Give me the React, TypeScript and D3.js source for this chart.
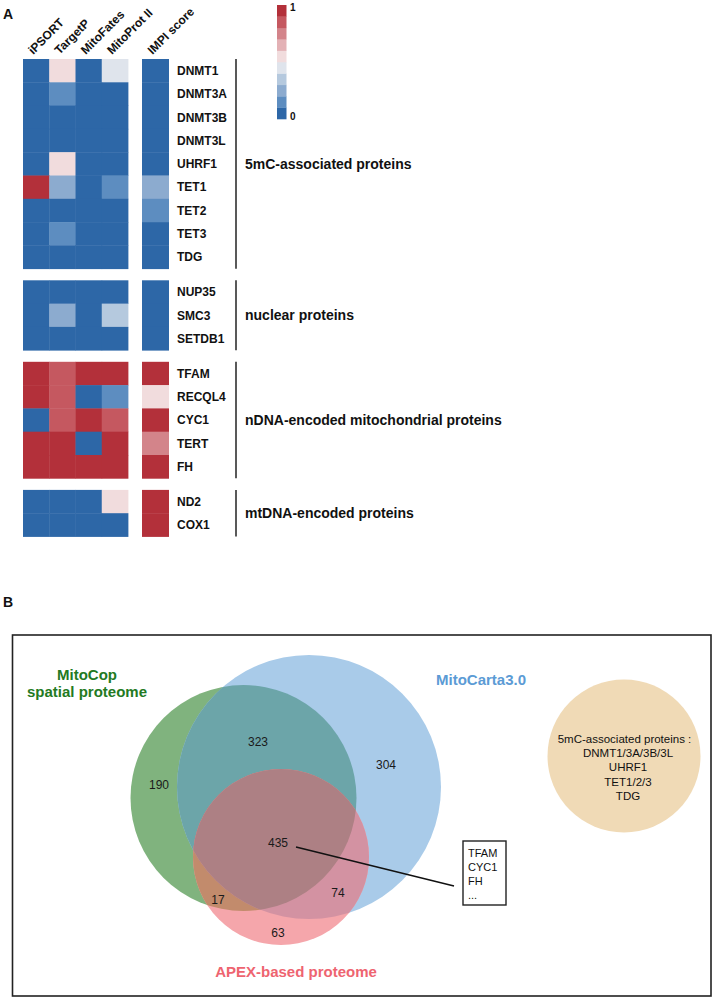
import React from 'react';
import * as d3 from 'd3';

// ---- Panel A data ----
const methods = ['iPSORT', 'TargetP', 'MitoFates', 'MitoProt II'];
const impiLabel = 'IMPI score';
const groupNames = [
  '5mC-associated proteins',
  'nuclear proteins',
  'nDNA-encoded mitochondrial proteins',
  'mtDNA-encoded proteins',
];
const proteins = [
  'DNMT1', 'DNMT3A', 'DNMT3B', 'DNMT3L', 'UHRF1', 'TET1', 'TET2', 'TET3', 'TDG',
  'NUP35', 'SMC3', 'SETDB1',
  'TFAM', 'RECQL4', 'CYC1', 'TERT', 'FH',
  'ND2', 'COX1',
];
const proteinGroup = [0, 0, 0, 0, 0, 0, 0, 0, 0, 1, 1, 1, 2, 2, 2, 2, 2, 3, 3];
// iPSORT, TargetP, MitoFates, MitoProt II
const methodScores = [
  [0, 0.55, 0, 0.45],
  [0, 0.15, 0, 0],
  [0, 0, 0, 0],
  [0, 0, 0, 0],
  [0, 0.55, 0, 0],
  [1, 0.25, 0, 0.15],
  [0, 0, 0, 0],
  [0, 0.15, 0, 0],
  [0, 0, 0, 0],
  [0, 0, 0, 0],
  [0, 0.25, 0, 0.35],
  [0, 0, 0, 0],
  [1, 0.85, 1, 1],
  [1, 0.85, 0, 0.15],
  [0, 0.85, 1, 0.85],
  [1, 1, 0, 1],
  [1, 1, 1, 1],
  [0, 0, 0, 0.55],
  [0, 0, 0, 0],
];
const impiScores = [0, 0, 0, 0, 0, 0.25, 0.15, 0, 0, 0, 0, 0, 1, 0.55, 1, 0.75, 1, 1, 1];
// 0 -> 1
const palette = [
  '#2d67a7', '#5d8dc0', '#8cabcf', '#b5c9de', '#dfe4ec',
  '#f1dcdd', '#e3b1b5', '#d3848a', '#c55860', '#b3303a',
];
const legendTicks = [0, 1];

// ---- Panel B data ----
const vennSetNames = ['MitoCop', 'MitoCarta3.0', 'APEX-based proteome'];
const vennRegionKeys = ['G', 'B', 'P', 'GB', 'GP', 'BP', 'GBP'];
const vennRegionCounts = [190, 304, 63, 323, 17, 74, 435];
const calloutGenes = ['TFAM', 'CYC1', 'FH', '...'];
const otherSetLines = ['5mC-associated proteins :', 'DNMT1/3A/3B/3L', 'UHRF1', 'TET1/2/3', 'TDG'];

const FONT = '"Liberation Sans", Arial, Helvetica, sans-serif';

const Heatmap: React.FC = () => {
  const rowH = 23.3;
  const gap = 11.6;
  const top = 59;
  const rowY = (i: number) => top + i * rowH + proteinGroup[i] * gap;

  const x = d3.scaleBand<string>().domain(methods).range([23, 128]);
  const impiX = d3.scaleBand<string>().domain([impiLabel]).range([142, 169]);
  const color = d3.scaleQuantize<string>().domain([0, 1]).range(palette);

  const legendY = d3.scaleBand<number>().domain(d3.range(palette.length).reverse()).range([5, 119]);
  const legendVal = d3.scaleLinear().domain([0, 1]).range([119, 5]);

  const groupExtents = groupNames.map((_, g) => {
    const idx = proteins.map((_, i) => i).filter(i => proteinGroup[i] === g);
    return [rowY(idx[0]), rowY(idx[idx.length - 1]) + rowH];
  });

  return (
    <g fontFamily={FONT}>
      <text x={3} y={19} fontSize={14} fontWeight="bold" fill="#111">A</text>

      {[...methods, impiLabel].map((m, j) => {
        const cx = j < 4 ? x(m)! + x.bandwidth() / 2 : impiX(m)! + impiX.bandwidth() / 2;
        return (
          <text key={m} transform={`translate(${cx - 3},${55}) rotate(-45)`}
            fontSize={12} fontWeight="bold" fill="#111">{m}</text>
        );
      })}

      {proteins.map((p, i) => (
        <g key={p}>
          {methods.map((m, j) => (
            <rect key={m} x={x(m)} y={rowY(i)} width={x.bandwidth() + 0.4} height={rowH + 0.4}
              fill={color(methodScores[i][j])} />
          ))}
          <rect x={impiX(impiLabel)} y={rowY(i)} width={impiX.bandwidth()} height={rowH + 0.4}
            fill={color(impiScores[i])} />
          <text x={177} y={rowY(i) + rowH / 2} dy="0.36em" fontSize={12} fontWeight="bold" fill="#111">{p}</text>
        </g>
      ))}

      {groupNames.map((g, k) => (
        <g key={g}>
          <line x1={236} x2={236} y1={groupExtents[k][0]} y2={groupExtents[k][1]} stroke="#222" strokeWidth={1.5} />
          <text x={245} y={(groupExtents[k][0] + groupExtents[k][1]) / 2} dy="0.36em"
            fontSize={14} fontWeight="bold" fill="#111">{g}</text>
        </g>
      ))}

      {palette.map((c, k) => (
        <rect key={k} x={277} y={legendY(k)} width={9.5} height={legendY.bandwidth() + 0.3} fill={c} />
      ))}
      {legendTicks.map(t => (
        <text key={t} x={290} y={legendVal(t)} dy={t === 1 ? '0.6em' : '0.05em'} fontSize={10} fontWeight="bold" fill="#111">{t}</text>
      ))}
    </g>
  );
};

const Venn: React.FC = () => {
  // circle layout (diagram geometry)
  const circles: Record<string, { cx: number; cy: number; r: number }> = {
    G: { cx: 243.5, cy: 798, r: 113 },
    B: { cx: 309, cy: 787, r: 132 },
    P: { cx: 281, cy: 857, r: 88 },
  };
  const regionFill: Record<string, string> = {
    G: '#80b37e', B: '#a9cbe9', P: '#f5a6ab',
    GB: '#6ca5a9', GP: '#c28b6c', BP: '#d392a2', GBP: '#ad8084',
  };
  const regionPos: Record<string, [number, number]> = {
    G: [159, 789], B: [386, 769], P: [278, 937],
    GB: [258, 746], GP: [218, 904], BP: [338, 897], GBP: [278, 847],
  };
  const circ = (k: string, fill?: string) => (
    <circle cx={circles[k].cx} cy={circles[k].cy} r={circles[k].r} fill={fill} />
  );
  const lineStep = 14.2;

  return (
    <g fontFamily={FONT}>
      <text x={3} y={607} fontSize={14} fontWeight="bold" fill="#111">B</text>
      <rect x={12.5} y={635} width={698.5} height={361} fill="none" stroke="#222" strokeWidth={1.6} />

      <defs>
        <clipPath id="clipG">{circ('G')}</clipPath>
        <clipPath id="clipB">{circ('B')}</clipPath>
      </defs>
      {circ('G', regionFill.G)}
      {circ('B', regionFill.B)}
      {circ('P', regionFill.P)}
      <g clipPath="url(#clipG)">{circ('B', regionFill.GB)}</g>
      <g clipPath="url(#clipG)">{circ('P', regionFill.GP)}</g>
      <g clipPath="url(#clipB)">{circ('P', regionFill.BP)}</g>
      <g clipPath="url(#clipG)"><g clipPath="url(#clipB)">{circ('P', regionFill.GBP)}</g></g>

      {vennRegionKeys.map((k, i) => (
        <text key={k} x={regionPos[k][0]} y={regionPos[k][1]} textAnchor="middle" fontSize={12} fill="#1a1a1a">
          {vennRegionCounts[i]}
        </text>
      ))}

      <text x={87} y={680} textAnchor="middle" fontSize={15} fontWeight="bold" fill="#237a22">{vennSetNames[0]}</text>
      <text x={87} y={697} textAnchor="middle" fontSize={15} fontWeight="bold" fill="#237a22">spatial proteome</text>
      <text x={481} y={685} textAnchor="middle" fontSize={15} fontWeight="bold" fill="#5b9bd5">{vennSetNames[1]}</text>
      <text x={296} y={977} textAnchor="middle" fontSize={15} fontWeight="bold" fill="#ee6470">{vennSetNames[2]}</text>

      <line x1={296} y1={847} x2={454} y2={886} stroke="#111" strokeWidth={1.5} />
      <rect x={463} y={841} width={43} height={64} fill="#fff" stroke="#222" strokeWidth={1.4} />
      {calloutGenes.map((g, i) => (
        <text key={g} x={468} y={856.5 + i * 14.3} fontSize={11} fill="#111">{g}</text>
      ))}

      <circle cx={624} cy={756} r={76.5} fill="#f0dab6" />
      {otherSetLines.map((l, i) => (
        <text key={l} x={i === 0 ? 624.5 : 628} y={743 + i * lineStep} textAnchor="middle" fontSize={11.5} fill="#111">{l}</text>
      ))}
    </g>
  );
};

export default function App() {
  return (
    <div style={{ position: 'absolute', left: 0, top: 0 }}>
      <svg width={713} height={998} viewBox="0 0 713 998" style={{ display: 'block', background: '#fff' }}>
        <Heatmap />
        <Venn />
      </svg>
    </div>
  );
}
